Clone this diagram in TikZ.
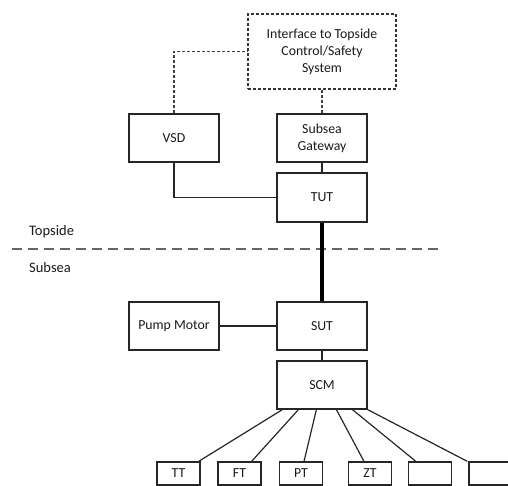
\documentclass[tikz,border=0pt]{standalone}
\usepackage{fontspec}
\setmainfont{Carlito}
\begin{document}
\begin{tikzpicture}[x=1pt,y=-1pt,
  every node/.style={font=\fontsize{13.8}{17}\selectfont, text=black!90, align=center, inner sep=0pt},
  unit/.style={draw=black!85, line width=1.2pt, minimum width=90pt, minimum height=48pt},
  sensor/.style={draw=black!85, line width=1.2pt, minimum width=43pt, minimum height=23pt},
  ifbox/.style={draw=black!80, line width=1.2pt, dash pattern=on 3pt off 2pt, minimum width=148pt, minimum height=75pt},
  wire/.style={draw=black!85, line width=1.2pt},
  dashwire/.style={draw=black!75, line width=1.2pt, dash pattern=on 3pt off 2pt},
  trunk/.style={draw=black, line width=4pt},
  boundary/.style={draw=black!60, line width=1.4pt, dash pattern=on 10pt off 6pt},
  zone/.style={anchor=west, font=\fontsize{14.5}{17}\selectfont}]
\useasboundingbox (0,0) rectangle (508,486);
\clip (0,0) rectangle (508,486);

% topside equipment
\node[ifbox] (iface) at (322,51.5) {Interface to Topside\\Control/Safety\\System};
\node[unit] (vsd) at (174,138) {VSD};
\node[unit] (gw) at (322,138) {Subsea\\Gateway};
\node[unit, minimum height=49pt] (tut) at (322,197.5) {TUT};

% topside / subsea boundary
\coordinate (bl) at (12,249);
\coordinate (br) at (438,249);
\draw[boundary] (bl) -- (br);
\node[zone] (top) at (29,232) {Topside};
\node[zone] (sub) at (29,268) {Subsea};

% subsea equipment
\node[unit] (pump) at (174,326) {Pump Motor};
\node[unit] (sut) at (322,326) {SUT};
\node[unit] (scm) at (322,385) {SCM};

% instruments
\node[sensor] (tt) at (178.5,473.5) {TT};
\node[sensor] (ft) at (239.5,473.5) {FT};
\node[sensor] (pt) at (301,473.5) {PT};
\node[sensor] (zt) at (370,473.5) {ZT};
\node[sensor] (b1) at (430,473.5) {};
\node[sensor] (b2) at (490.5,473.5) {};

% connections
\draw[dashwire] (vsd.north) |- (iface.west);
\draw[dashwire] (iface.south) -- (gw.north);
\draw[wire] (gw.south) -- (tut.north);
\draw[wire] (vsd.south) |- (tut.west);
\draw[trunk] (tut.south) -- (sut.north);
\draw[wire] (pump.east) -- (sut.west);
\draw[wire] (sut.south) -- (scm.north);

\draw[wire] ([xshift=6pt]scm.south west) -- ([xshift=-2pt]tt.north east);
\draw[wire] ([xshift=22pt]scm.south west) -- ([xshift=-10pt]ft.north east);
\draw[wire] ([xshift=40pt]scm.south west) -- ([xshift=3pt]pt.north);
\draw[wire] ([xshift=60pt]scm.south west) -- ([xshift=-6pt]zt.north);
\draw[wire] ([xshift=76pt]scm.south west) -- ([xshift=8pt]b1.north west);
\draw[wire] (scm.south east) -- ([xshift=-1pt]b2.north west);
\end{tikzpicture}
\end{document}
